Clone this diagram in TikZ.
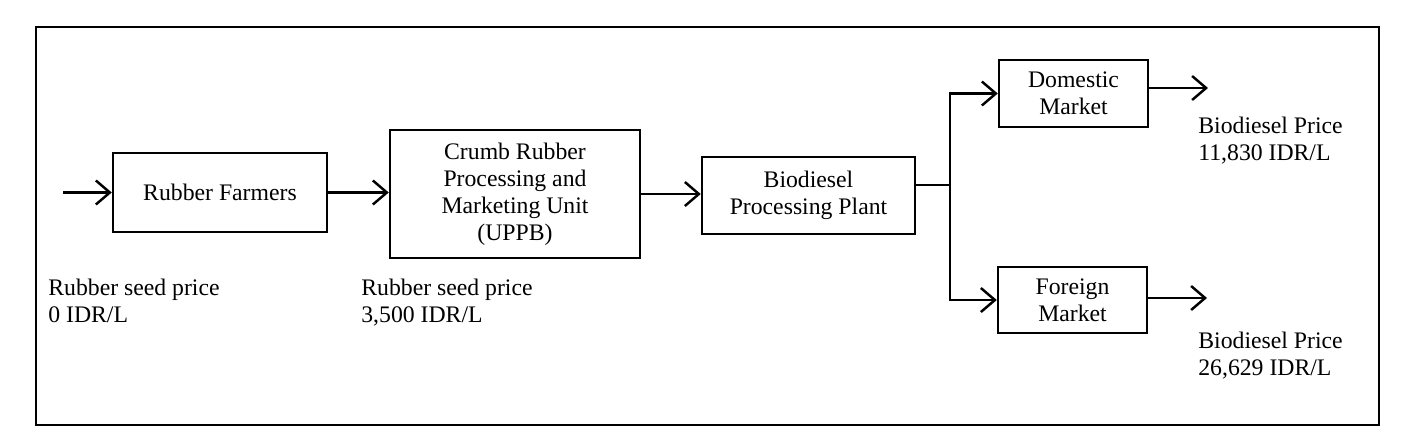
\documentclass[tikz,border=0pt]{standalone}
\usepackage{fontspec}
\setmainfont{Liberation Serif}
\usepackage{tikz}
\usetikzlibrary{arrows.meta}
\usetikzlibrary{calc}
\usetikzlibrary{positioning}

\begin{document}
\begin{tikzpicture}[
        font=\fontsize{13.5pt}{15.3pt}\selectfont,
        unitbox/.style={draw, line width=1.4pt, inner sep=0pt, align=center},
        pricelabel/.style={anchor=north west, inner sep=0pt, align=left},
        flow/.style={line width=1.4pt, -{Straight Barb[length=2.8mm,width=4.8mm,line width=1.4pt]}},
        link/.style={line width=1.4pt}
    ]
        \useasboundingbox (0,0) rectangle (28.2,-8.88);
        % Draw the outer frame
        \draw[line width=1.4pt] (0.72,-0.54) rectangle (27.58,-8.5);
        % Chain of units
        \node[unitbox, minimum width=4.28cm, minimum height=1.58cm] (farmers) at (4.4,-3.85) {Rubber Farmers};
        \node[unitbox, minimum width=5.0cm, minimum height=2.56cm] (uppb) at (10.3,-3.88) {Crumb Rubber\\Processing and\\Marketing Unit\\(UPPB)};
        \node[unitbox, minimum width=4.26cm, minimum height=1.54cm] (plant) at (16.17,-3.91) {Biodiesel\\Processing Plant};
        \node[unitbox, minimum width=2.98cm, minimum height=1.34cm] (dom) at (21.47,-1.87) {Domestic\\Market};
        \node[unitbox, minimum width=2.98cm, minimum height=1.32cm] (foreign) at (21.45,-6.0) {Foreign\\Market};
        % Free ends and the split point
        \coordinate (start) at (1.26,-3.85);
        \coordinate (split) at (19.0,-3.7);
        \coordinate (domout) at (24.16,-1.76);
        \coordinate (forout) at (24.14,-5.96);
        % Connectors
        \draw[flow] (start) -- (farmers.west);
        \draw[flow] (farmers.east) -- (farmers.east -| uppb.west);
        \draw[flow] (uppb.east) -- (uppb.east -| plant.west);
        \draw[link] (plant.east |- split) -- (split);
        \draw[flow] (split) |- (dom.west);
        \draw[flow] (split) |- (foreign.west);
        \draw[flow] (dom.east |- domout) -- (domout);
        \draw[flow] (foreign.east |- forout) -- (forout);
        % Add price labels
        \node[pricelabel] (price0) at (0.96,-5.58) {Rubber seed price\\0 IDR/L};
        \node[pricelabel] (price1) at (7.22,-5.58) {Rubber seed price\\3,500 IDR/L};
        \node[pricelabel] (price2) at (23.96,-2.34) {Biodiesel Price\\11,830 IDR/L};
        \node[pricelabel] (price3) at (23.96,-6.64) {Biodiesel Price\\26,629 IDR/L};
      \end{tikzpicture}
\end{document}
